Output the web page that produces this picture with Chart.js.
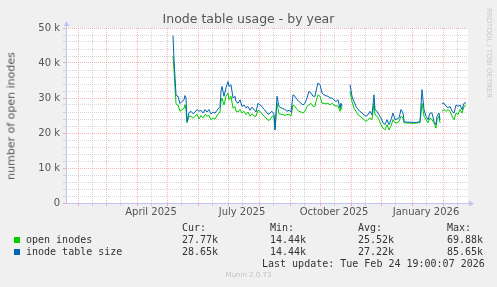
<!DOCTYPE html>
<html>
<head>
<meta charset="utf-8">
<title>Inode table usage - by year</title>
<script src="https://cdn.jsdelivr.net/npm/chart.js@4/dist/chart.umd.min.js"></script>
<style>
  html, body { margin: 0; padding: 0; background: #f0f0f0; }
  #wrap { position: relative; width: 497px; height: 287px; overflow: hidden; background: #f0f0f0; }
  #chart { position: absolute; left: 0; top: 0; }
  .txt { position: absolute; white-space: pre; font-family: "DejaVu Sans", sans-serif; color: #555; }
  .mono { font-family: "DejaVu Sans Mono", monospace; font-size: 10px; line-height: 12px; color: #333; }
  #title { left: 0; width: 497px; top: 11px; text-align: center; font-size: 12.5px; color: #555; }
  #ylabel { left: 11px; top: 116px; font-size: 11px; transform: translate(-50%, -50%) rotate(-90deg); }
  #rrd { left: 489px; top: 53px; font-size: 7px; color: #c8c8c8; transform: translate(-50%, -50%) rotate(90deg); }
  #munin { left: 0; width: 497px; top: 271px; text-align: center; font-size: 7px; color: #c0c0c0; }
  .sw { position: absolute; width: 6px; height: 6px; }
</style>
</head>
<body>
<div id="wrap">
  <canvas id="chart" width="497" height="287"></canvas>
  <div class="txt" id="title">Inode table usage - by year</div>
  <div class="txt" id="ylabel">number of open inodes</div>
  <div class="txt" id="rrd">RRDTOOL / TOBI OETIKER</div>
  <div id="legend"></div>
  <div class="txt" id="munin">Munin 2.0.73</div>
</div>
<script>
"use strict";

// ── Data (x = days since 2025-01-20, values in thousands) ─────────────────
const days = [
  107, 108, 109, 110, 111, 112, 114, 116, 118, 119, 120, 121, 123, 125, 127, 129,
  131, 133, 135, 137, 139, 141, 143, 145, 147, 149, 151, 153, 154, 155, 156, 158,
  160, 162, 163, 165, 167, 169, 170, 172, 174, 176, 178, 180, 182, 184, 186, 188,
  190, 192, 194, 196, 198, 200, 202, 204, 206, 208, 209, 211, 213, 215, 217, 219,
  221, 223, 225, 227, 229, 231, 233, 235, 237, 239, 241, 243, 245, 247, 249, 250,
  252, 254, 256, 258, 260, 262, 264, 266, 268, 270, 272, 274, 275, 276, 277,
  284, 286, 288, 290, 292, 294, 296, 298, 300, 302, 304, 306, 308, 309, 311, 313,
  315, 317, 319, 321, 323, 325, 327, 329, 331, 333, 335, 337, 338, 340, 344, 348,
  352, 354, 356, 358, 360, 362, 364, 366, 368, 370, 371, 373, 374, 375,
  376, 378, 380, 382, 384, 386, 388, 390, 392, 394, 396, 398, 400,
];
const tableSize = [
  47.8, 41.0, 36.0, 31.0, 30.5, 30.5, 28.4, 29.0, 29.5, 30.7, 30.0, 23.3, 25.8, 26.2, 25.5, 26.0,
  26.7, 26.2, 26.5, 25.7, 26.7, 26.0, 26.7, 25.4, 26.0, 25.7, 26.5, 27.2, 27.5, 31.9, 33.3, 30.5,
  32.9, 34.7, 33.3, 33.8, 30.0, 30.5, 29.0, 28.5, 29.5, 27.6, 28.0, 27.2, 27.6, 26.5, 27.4, 26.7,
  26.0, 28.5, 28.0, 27.6, 26.7, 26.2, 25.3, 25.7, 26.2, 25.3, 20.9, 30.5, 27.6, 27.2, 27.0, 26.7,
  26.2, 26.5, 26.0, 30.9, 30.5, 29.5, 29.0, 28.5, 28.0, 28.5, 30.0, 31.9, 31.4, 30.5, 30.5, 32.0,
  34.3, 33.8, 31.4, 30.9, 30.6, 30.5, 30.0, 30.0, 29.5, 29.0, 29.5, 27.2, 28.5, 27.6, null,
  33.8, 30.5, 29.0, 27.6, 26.7, 26.2, 25.7, 25.2, 24.8, 25.2, 26.2, 25.2, 30.9, 26.7, 26.2, 25.2,
  24.3, 22.9, 22.4, 23.8, 22.4, 23.8, 25.7, 23.8, 24.0, 24.3, 26.7, 25.7, 23.3, 23.1, 23.1, 23.0,
  23.1, 23.3, 32.4, 26.7, 24.8, 23.8, 25.7, 25.7, 23.3, 22.4, 24.8, 25.7, 23.8, null,
  28.5, 28.5, 27.7, 27.2, 27.6, 26.2, 25.7, 28.0, 27.6, 28.0, 26.7, 28.5, 28.65,
];
const openInodes = [
  42.0, 38.0, 33.0, 28.5, 28.0, 28.0, 26.2, 26.7, 27.0, 28.1, 26.7, 22.9, 24.8, 24.8, 24.2, 24.8,
  25.3, 24.0, 25.0, 24.3, 25.3, 24.8, 25.0, 23.8, 24.3, 24.0, 25.0, 25.7, 26.0, 29.0, 30.0, 28.0,
  30.5, 31.4, 29.5, 30.5, 27.1, 27.6, 26.2, 26.0, 26.7, 25.7, 26.2, 25.3, 26.0, 24.8, 25.5, 24.8,
  24.8, 26.5, 26.2, 25.5, 24.8, 24.3, 23.6, 23.8, 24.8, 24.8, 20.9, 28.5, 25.5, 25.3, 25.3, 25.0,
  25.3, 25.3, 24.8, 28.0, 27.6, 26.7, 26.2, 26.0, 25.7, 26.2, 27.6, 28.0, 28.5, 27.6, 27.6, 29.0,
  30.9, 30.5, 28.5, 28.5, 28.3, 28.5, 28.0, 28.5, 28.0, 27.6, 27.8, 26.2, 27.6, 26.7, null,
  31.9, 29.0, 27.1, 26.2, 25.2, 24.8, 24.3, 23.8, 23.3, 23.8, 24.3, 23.8, 28.5, 25.2, 24.8, 23.8,
  22.4, 21.4, 20.9, 22.4, 20.9, 22.0, 23.8, 22.9, 22.9, 23.3, 24.8, 24.3, 22.9, 22.9, 22.8, 22.8,
  22.9, 22.9, 28.5, 24.8, 23.8, 22.9, 24.3, 23.8, 22.9, 21.4, 23.8, 24.8, 22.9, null,
  26.2, 26.7, 26.2, 26.7, 26.2, 24.8, 23.8, 25.7, 25.2, 26.7, 25.7, 27.6, 27.77,
];

// month starts (major grid) and the 15th of each month (minor grid)
const monthStarts = [12, 40, 71, 101, 132, 162, 193, 224, 254, 285, 315, 346, 377];
const midMonths   = [26, 54, 85, 115, 146, 176, 207, 238, 268, 299, 329, 360, 391];
const quarterLabels = { 85: "April 2025", 176: "July 2025", 268: "October 2025", 360: "January 2026" };

const legendRows = [
  { name: "open inodes",      color: "#00cc00", cur: "27.77k", min: "14.44k", avg: "25.52k", max: "69.88k" },
  { name: "inode table size", color: "#0066b3", cur: "28.65k", min: "14.44k", avg: "27.22k", max: "85.65k" },
];
const lastUpdate = "Last update: Tue Feb 24 19:00:07 2026";

// ── Chart ──────────────────────────────────────────────────────────────────
Chart.defaults.font.family = "'DejaVu Sans', sans-serif";
Chart.defaults.font.size = 10;
Chart.defaults.color = "#555";

const MAJOR = "rgba(235,120,120,0.55)";
const MINOR = "rgba(200,200,200,0.75)";
const AXIS  = "#c4c4f4";

const points = vals => days.map((d, i) => ({ x: d, y: vals[i] }));

const frame = {
  id: "frame",
  beforeDraw(chart) {
    const { ctx, chartArea: a } = chart;
    ctx.save();
    ctx.fillStyle = "#ffffff";
    ctx.fillRect(a.left, a.top, a.right - a.left, a.bottom - a.top);
    ctx.restore();
  },
  afterDraw(chart) {
    const { ctx, chartArea: a } = chart;
    const l = Math.round(a.left) + 0.5, b = Math.round(a.bottom) + 0.5;
    ctx.save();
    ctx.strokeStyle = AXIS;
    ctx.fillStyle = AXIS;
    ctx.lineWidth = 1;
    ctx.beginPath();
    ctx.moveTo(l, b); ctx.lineTo(l, a.top - 2);
    ctx.moveTo(l, b); ctx.lineTo(a.right + 1, b);
    ctx.stroke();
    ctx.beginPath();
    ctx.moveTo(l, a.top - 7); ctx.lineTo(l - 3, a.top - 2); ctx.lineTo(l + 3, a.top - 2);
    ctx.closePath(); ctx.fill();
    ctx.beginPath();
    ctx.moveTo(a.right + 6, b); ctx.lineTo(a.right + 1, b - 3); ctx.lineTo(a.right + 1, b + 3);
    ctx.closePath(); ctx.fill();
    ctx.restore();
  },
};

new Chart(document.getElementById("chart"), {
  type: "line",
  data: {
    datasets: [
      { label: "open inodes", data: points(openInodes), borderColor: "#00cc00", order: 2 },
      { label: "inode table size", data: points(tableSize), borderColor: "#0066b3", order: 1 },
    ],
  },
  options: {
    responsive: false,
    animation: false,
    spanGaps: false,
    elements: {
      line: { borderWidth: 1, tension: 0 },
      point: { radius: 0 },
    },
    layout: { padding: { left: 0, top: 28, right: 29, bottom: 67 } },
    plugins: { legend: { display: false }, tooltip: { enabled: false } },
    scales: {
      x: {
        type: "linear",
        min: 0,
        max: 402,
        afterFit: s => { s.height = 17; },
        afterBuildTicks: s => {
          s.ticks = monthStarts.map(v => ({ value: v, kind: "major" }))
            .concat(midMonths.map(v => ({ value: v, kind: "minor" })))
            .sort((p, q) => p.value - q.value);
        },
        grid: {
          color: c => (c.tick && c.tick.kind === "major" ? MAJOR : MINOR),
          tickLength: 3,
        },
        border: { display: false, dash: [1, 1] },
        ticks: {
          autoSkip: false,
          maxRotation: 0,
          padding: 0,
          color: "#555",
          callback: v => quarterLabels[v] || "",
        },
      },
      y: {
        min: 0,
        max: 50,
        afterFit: s => { s.width = 66; },
        grid: {
          color: c => (c.tick && c.tick.value % 10 === 0 ? MAJOR : MINOR),
          tickLength: 3,
        },
        border: { display: false, dash: [1, 1] },
        ticks: {
          stepSize: 2,
          autoSkip: false,
          padding: 3,
          color: "#555",
          callback: v => (v % 10 === 0 ? (v === 0 ? "0" : v + " k") : ""),
        },
      },
    },
  },
  plugins: [frame],
});

// ── Legend / stats table ───────────────────────────────────────────────────
function put(parent, cls, text, left, top) {
  const el = document.createElement("div");
  el.className = cls;
  el.style.left = left + "px";
  el.style.top = top + "px";
  el.textContent = text;
  parent.appendChild(el);
  return el;
}

const legend = document.getElementById("legend");
const cols = [182, 270, 358, 447];
["Cur:", "Min:", "Avg:", "Max:"].forEach((h, i) => put(legend, "txt mono", h, cols[i], 222));
legendRows.forEach((r, k) => {
  const top = 234 + k * 11.5;
  const sw = document.createElement("div");
  sw.className = "sw";
  sw.style.left = "14px";
  sw.style.top = (top + 3) + "px";
  sw.style.background = r.color;
  legend.appendChild(sw);
  put(legend, "txt mono", r.name, 26, top);
  [r.cur, r.min, r.avg, r.max].forEach((v, i) => put(legend, "txt mono", v, cols[i], top));
});
put(legend, "txt mono", lastUpdate, 262, 258);
</script>
</body>
</html>
